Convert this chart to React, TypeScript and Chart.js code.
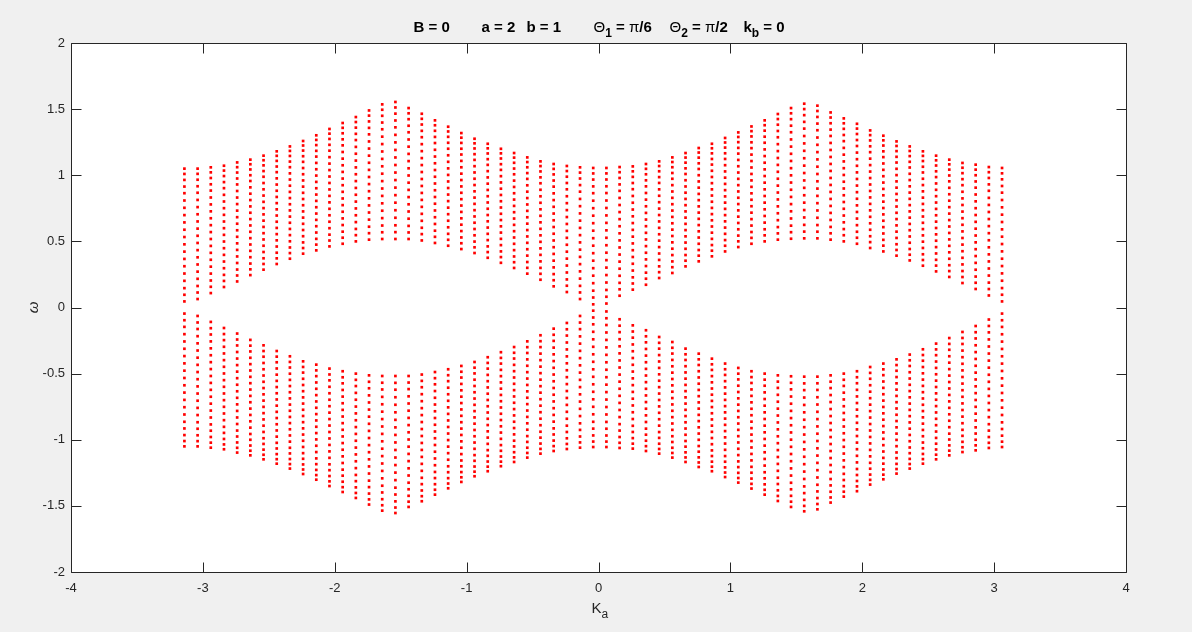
import React, { useEffect, useRef } from "react";
import { Chart, registerables } from "chart.js";

Chart.register(...registerables);

// ---- Data ----
// K_a positions of the sampled columns
const kaValues = [
  -3.14, -3.04, -2.94, -2.84, -2.74, -2.64, -2.54, -2.44, -2.34, -2.24,
  -2.14, -2.04, -1.94, -1.84, -1.74, -1.64, -1.54, -1.44, -1.34, -1.24,
  -1.14, -1.04, -0.94, -0.84, -0.74, -0.64, -0.54, -0.44, -0.34, -0.24,
  -0.14, -0.04, 0.06, 0.16, 0.26, 0.36, 0.46, 0.56, 0.66, 0.76,
  0.86, 0.96, 1.06, 1.16, 1.26, 1.36, 1.46, 1.56, 1.66, 1.76,
  1.86, 1.96, 2.06, 2.16, 2.26, 2.36, 2.46, 2.56, 2.66, 2.76,
  2.86, 2.96, 3.06,
];

// highest ω of the positive band in each column
const upperBandTop = [
  1.05, 1.05, 1.06, 1.072, 1.097, 1.118, 1.148, 1.181, 1.218, 1.259,
  1.302, 1.35, 1.395, 1.44, 1.49, 1.536, 1.554, 1.508, 1.465, 1.415,
  1.367, 1.319, 1.276, 1.238, 1.2, 1.168, 1.135, 1.105, 1.085, 1.07,
  1.06, 1.055, 1.055, 1.062, 1.067, 1.085, 1.105, 1.135, 1.168, 1.206,
  1.238, 1.282, 1.324, 1.369, 1.415, 1.463, 1.508, 1.541, 1.526, 1.475,
  1.43, 1.389, 1.339, 1.299, 1.256, 1.218, 1.181, 1.148, 1.118, 1.093,
  1.08, 1.062, 1.055,
];

// lowest ω of the positive band in each column
const upperBandBottom = [
  0.046, 0.064, 0.109, 0.155, 0.197, 0.245, 0.286, 0.329, 0.369, 0.407,
  0.432, 0.462, 0.482, 0.5, 0.513, 0.518, 0.518, 0.518, 0.507, 0.488,
  0.467, 0.442, 0.412, 0.376, 0.338, 0.299, 0.256, 0.21, 0.16, 0.117,
  0.064, 0.024, 0.03, 0.089, 0.135, 0.172, 0.223, 0.261, 0.311, 0.349,
  0.387, 0.424, 0.457, 0.482, 0.5, 0.513, 0.52, 0.523, 0.523, 0.513,
  0.5, 0.482, 0.45, 0.424, 0.392, 0.356, 0.316, 0.273, 0.231, 0.185,
  0.14, 0.091, 0.046,
];

// relative position of each level inside a column (0 = band bottom, 1 = band top)
const levelFractions = [
  0, 0.05, 0.1, 0.155, 0.21, 0.265, 0.32, 0.375, 0.43, 0.485,
  0.54, 0.595, 0.65, 0.705, 0.76, 0.815, 0.865, 0.915, 0.96, 1.0,
];

const xTicks = [-4, -3, -2, -1, 0, 1, 2, 3, 4];
const yTicks = [-2, -1.5, -1, -0.5, 0, 0.5, 1, 1.5, 2];

// ---- Styling ----
const FONT = '"Liberation Sans", Arial, Helvetica, sans-serif';
const AXIS_COLOR = "#262626";

type Piece = { t: string; sub?: boolean; sym?: boolean };
const titleGroups: Piece[][] = [
  [{ t: "B = 0" }],
  [{ t: "a = 2" }],
  [{ t: "b = 1" }],
  [{ t: "Θ", sym: true }, { t: "1", sub: true }, { t: " = " }, { t: "π", sym: true }, { t: "/6" }],
  [{ t: "Θ", sym: true }, { t: "2", sub: true }, { t: " = " }, { t: "π", sym: true }, { t: "/2" }],
  [{ t: "k" }, { t: "b", sub: true }, { t: " = 0" }],
];
// left edge of each title group, relative to the axes centre
const titleOffsets = [-185, -117, -72, -5, 71, 145];

function buildPoints() {
  const pts: { x: number; y: number }[] = [];
  kaValues.forEach((k, i) => {
    const lo = upperBandBottom[i];
    const hi = upperBandTop[i];
    levelFractions.forEach((f) => {
      const w = lo + f * (hi - lo);
      pts.push({ x: k, y: w });
      pts.push({ x: k, y: -w });
    });
  });
  return pts;
}

function drawPieces(
  ctx: CanvasRenderingContext2D,
  pieces: Piece[],
  x: number,
  baseline: number,
  size: number,
  bold: boolean,
  color: string
) {
  let cx = x;
  ctx.fillStyle = color;
  ctx.textBaseline = "alphabetic";
  ctx.textAlign = "left";
  for (const p of pieces) {
    const s = p.sub ? Math.round(size * 0.8) : size;
    const weight = bold && !p.sym ? "bold " : "";
    ctx.font = `${weight}${s}px ${FONT}`;
    const y = p.sub ? baseline + size * 0.33 : baseline;
    ctx.fillText(p.t, cx, y);
    cx += ctx.measureText(p.t).width;
  }
}

const matlabPlugin = {
  id: "matlabLook",
  beforeDraw(chart: any) {
    const { ctx, chartArea } = chart;
    ctx.save();
    ctx.fillStyle = "#f0f0f0";
    ctx.fillRect(0, 0, chart.width, chart.height);
    ctx.fillStyle = "#ffffff";
    ctx.fillRect(
      chartArea.left,
      chartArea.top,
      chartArea.right - chartArea.left,
      chartArea.bottom - chartArea.top
    );
    ctx.restore();
  },
  afterDraw(chart: any) {
    const { ctx, chartArea } = chart;
    const xs = chart.scales.x;
    const ys = chart.scales.y;
    const L = Math.round(chartArea.left) + 0.5;
    const R = Math.round(chartArea.right) + 0.5;
    const T = Math.round(chartArea.top) + 0.5;
    const B = Math.round(chartArea.bottom) + 0.5;
    ctx.save();
    ctx.strokeStyle = AXIS_COLOR;
    ctx.lineWidth = 1;
    ctx.beginPath();
    ctx.rect(L, T, R - L, B - T);
    // inward tick marks
    const tl = 10;
    xTicks.forEach((v) => {
      const px = Math.round(xs.getPixelForValue(v)) + 0.5;
      ctx.moveTo(px, T);
      ctx.lineTo(px, T + tl);
      ctx.moveTo(px, B);
      ctx.lineTo(px, B - tl);
    });
    yTicks.forEach((v) => {
      const py = Math.round(ys.getPixelForValue(v)) + 0.5;
      ctx.moveTo(L, py);
      ctx.lineTo(L + tl, py);
      ctx.moveTo(R, py);
      ctx.lineTo(R - tl, py);
    });
    ctx.stroke();

    // title
    const cx = (chartArea.left + chartArea.right) / 2;
    titleGroups.forEach((g, i) => {
      drawPieces(ctx, g, cx + titleOffsets[i], 32, 15, true, "#000000");
    });

    // x label
    drawPieces(ctx, [{ t: "K" }, { t: "a", sub: true }], cx - 7, 613, 15, false, AXIS_COLOR);

    // y label
    ctx.translate(38, (chartArea.top + chartArea.bottom) / 2);
    ctx.rotate(-Math.PI / 2);
    ctx.font = `italic 15px ${FONT}`;
    ctx.fillStyle = AXIS_COLOR;
    ctx.textAlign = "center";
    ctx.textBaseline = "alphabetic";
    ctx.fillText("ω", 0, 0);
    ctx.restore();
  },
};

export default function App() {
  const ref = useRef<HTMLCanvasElement>(null);

  useEffect(() => {
    const canvas = ref.current;
    if (!canvas) return;
    const chart = new Chart(canvas, {
      type: "scatter",
      data: {
        datasets: [
          {
            data: buildPoints(),
            pointStyle: "rect",
            pointRadius: 1.9,
            pointBorderWidth: 0,
            pointBackgroundColor: "#ff0000",
            pointBorderColor: "#ff0000",
            showLine: false,
          },
        ],
      },
      options: {
        responsive: false,
        animation: false,
        events: [],
        layout: { padding: { top: 43, right: 66, left: 0, bottom: 0 } },
        plugins: {
          legend: { display: false },
          tooltip: { enabled: false },
          title: { display: false },
        },
        scales: {
          x: {
            type: "linear",
            min: -4,
            max: 4,
            afterBuildTicks: (s: any) => {
              s.ticks = xTicks.map((v) => ({ value: v }));
            },
            afterFit: (s: any) => {
              s.height = 60;
            },
            grid: { display: false, drawTicks: false },
            border: { display: false },
            ticks: {
              padding: 9,
              color: AXIS_COLOR,
              font: { family: FONT, size: 13 },
              maxRotation: 0,
              autoSkip: false,
              callback: (v: any) => String(v),
            },
          },
          y: {
            type: "linear",
            min: -2,
            max: 2,
            afterBuildTicks: (s: any) => {
              s.ticks = yTicks.map((v) => ({ value: v }));
            },
            afterFit: (s: any) => {
              s.width = 71;
            },
            grid: { display: false, drawTicks: false },
            border: { display: false },
            ticks: {
              padding: 6,
              color: AXIS_COLOR,
              font: { family: FONT, size: 13 },
              autoSkip: false,
              callback: (v: any) => String(v),
            },
          },
        },
      },
      plugins: [matlabPlugin],
    } as any);
    return () => chart.destroy();
  }, []);

  return (
    <div
      style={{
        position: "fixed",
        left: 0,
        top: 0,
        width: 1192,
        height: 632,
        background: "#f0f0f0",
      }}
    >
      <canvas
        ref={ref}
        width={1192}
        height={632}
        style={{ display: "block", width: 1192, height: 632 }}
      />
    </div>
  );
}
